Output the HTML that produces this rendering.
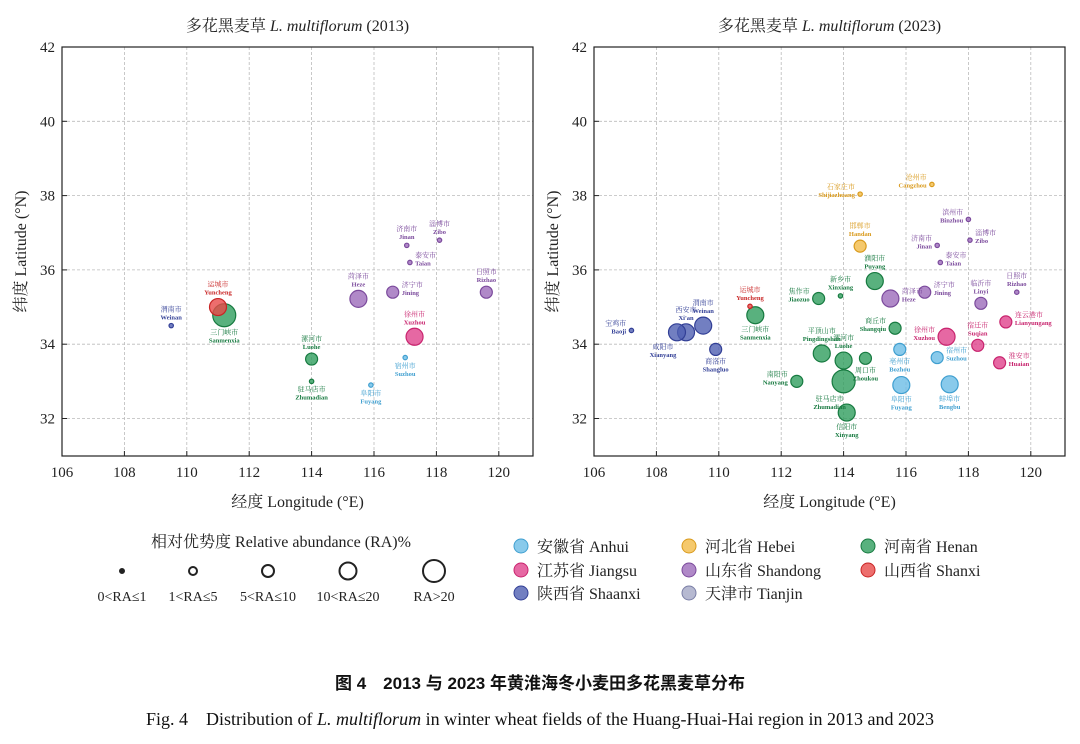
<!DOCTYPE html>
<html><head><meta charset="utf-8"><style>
body{margin:0;background:#fff;}
svg{display:block;}
text{font-family:"Liberation Serif","Noto Serif CJK SC",serif;}
</style></head><body>
<svg id="c" width="1080" height="744" viewBox="0 0 1080 744" xmlns="http://www.w3.org/2000/svg"></svg>
<script>
const colors={A:"#6cbde6",J:"#e0428c",S:"#4f5fb2",H:"#f2bc48",D:"#9c6cba",T:"#a4a8c6",N:"#2f9d5e",X:"#e94a48"};
const strokes={A:"#3f9fd0",J:"#c8246e",S:"#323f96",H:"#d99a1c",D:"#7b4a9c",T:"#7a7ea6",N:"#177a40",X:"#c82424"};
const radii=[0,2.2,4,6,8.5,11.5];
const xTicks=[106,108,110,112,114,116,118,120];
const yTicks=[32,34,36,38,40,42];
// 2013 data
const names13=["渭南市|Weinan","运城市|Yuncheng","三门峡市|Sanmenxia","菏泽市|Heze","济南市|Jinan","淄博市|Zibo","泰安市|Taian","济宁市|Jining","日照市|Rizhao","徐州市|Xuzhou","宿州市|Suzhou","阜阳市|Fuyang","漯河市|Luohe","驻马店市|Zhumadian"];
const prov13=["S","X","N","D","D","D","D","D","D","J","A","A","N","N"];
const lon13=[109.5,111.0,111.2,115.5,117.05,118.1,117.15,116.6,119.6,117.3,117.0,115.9,114.0,114.0];
const lat13=[34.5,35.0,34.78,35.22,36.66,36.8,36.2,35.4,35.4,34.2,33.64,32.9,33.6,33.0];
const ra13=[1,4,5,4,1,1,1,3,3,4,1,1,3,1];
const lp13=["t","t","b","t","t","t","r","r","t","t","b","b","t","b"];
// 2023 data
const names23=["石家庄市|Shijiazhuang","沧州市|Cangzhou","滨州市|Binzhou","淄博市|Zibo","济南市|Jinan","泰安市|Taian","邯郸市|Handan","濮阳市|Puyang","新乡市|Xinxiang","焦作市|Jiaozuo","菏泽市|Heze","济宁市|Jining","临沂市|Linyi","日照市|Rizhao","连云港市|Lianyungang","徐州市|Xuzhou","宿迁市|Suqian","淮安市|Huaian","亳州市|Bozhou","宿州市|Suzhou","阜阳市|Fuyang","蚌埠市|Bengbu","商丘市|Shangqiu","周口市|Zhoukou","漯河市|Luohe","驻马店市|Zhumadian","信阳市|Xinyang","平顶山市|Pingdingshan","南阳市|Nanyang","三门峡市|Sanmenxia","运城市|Yuncheng","渭南市|Weinan","西安市|Xi'an","咸阳市|Xianyang","宝鸡市|Baoji","商洛市|Shangluo"];
const prov23=["H","H","D","D","D","D","H","N","N","N","D","D","D","D","J","J","J","J","A","A","A","A","N","N","N","N","N","N","N","N","X","S","S","S","S","S"];
const lon23=[114.53,116.83,118.0,118.05,117.0,117.1,114.53,115.0,113.9,113.2,115.5,116.6,118.4,119.55,119.2,117.3,118.3,119.0,115.8,117.0,115.85,117.4,115.65,114.7,114.0,114.0,114.1,113.3,112.5,111.17,111.0,109.5,108.95,108.66,107.2,109.9];
const lat23=[38.04,38.3,37.36,36.8,36.66,36.2,36.64,35.7,35.3,35.23,35.23,35.4,35.1,35.4,34.6,34.2,33.97,33.5,33.86,33.64,32.9,32.92,34.43,33.62,33.56,33.0,32.16,33.75,33.0,34.78,35.02,34.5,34.32,34.32,34.37,33.86];
const ra23=[1,1,1,1,1,1,3,4,1,3,4,3,3,1,3,4,3,3,3,3,4,4,3,3,4,5,4,4,3,4,1,4,4,4,1,3];
const lp23=["l","l","l","r","l","r","t","t","t","l","r","r","t","t","r","l","t","r","b","r","b","b","l","b","t","bl","b","t","l","b","t","t","t","bl","l","b"];

const svg=document.getElementById('c');
const NS="http://www.w3.org/2000/svg";
function mk(tag,attrs,parent){const e=document.createElementNS(NS,tag);for(const k in attrs)e.setAttribute(k,attrs[k]);(parent||svg).appendChild(e);return e;}
function txt(s,attrs,parent){const e=mk('text',attrs,parent);e.textContent=s;return e;}

function panel(x0,title,names,prov,lon,lat,ra,lp,key){
  const g=mk('g',{});
  
  
  const L=x0,R=x0+471,T=47,B=456;
  const xs=v=>L+(v-106)*31.2;
  const ys=v=>T+(42-v)*37.15;
  // grid
  xTicks.forEach(t=>{const l=mk('line',{x1:xs(t),x2:xs(t),y1:T,y2:B,stroke:'#bbb','stroke-dasharray':'3,2','stroke-width':0.8},g);
    });
  yTicks.forEach(t=>{const l=mk('line',{x1:L,x2:R,y1:ys(t),y2:ys(t),stroke:'#bbb','stroke-dasharray':'3,2','stroke-width':0.8},g);
    });
  const box=mk('rect',{x:L,y:T,width:R-L,height:B-T,fill:'none',stroke:'#222','stroke-width':1.2},g);
  
  xTicks.forEach(t=>{mk('line',{x1:xs(t),x2:xs(t),y1:B,y2:B-5,stroke:'#222'},g);
    const e=txt(t,{x:xs(t),y:B+21,'font-size':15,'text-anchor':'middle',fill:'#222'},g);
    });
  yTicks.forEach(t=>{mk('line',{x1:L,x2:L+5,y1:ys(t),y2:ys(t),stroke:'#222'},g);
    const e=txt(t,{x:L-7,y:ys(t)+5,'font-size':15,'text-anchor':'end',fill:'#222'},g);
    });
  const tt=txt('',{x:(L+R)/2,y:31,'font-size':16,'text-anchor':'middle',fill:'#222'},g);
  tt.innerHTML='多花黑麦草 <tspan font-style="italic">L. multiflorum</tspan> ('+title+')';
  
  const xl=txt('经度 Longitude (°E)',{x:(L+R)/2,y:507,'font-size':16,'text-anchor':'middle',fill:'#222'},g);
  
  const yl=txt('纬度 Latitude (°N)',{x:0,y:0,'font-size':16,'text-anchor':'middle',fill:'#222',transform:`translate(${L-36},${(T+B)/2}) rotate(-90)`},g);
  
  // points
  const order=names.map((_,i)=>i).sort((a,b)=>ra[b]-ra[a]);
  order.forEach(i=>{
    const cx=xs(lon[i]),cy=ys(lat[i]),r=radii[ra[i]];
    const c=mk('circle',{cx,cy,r,fill:colors[prov[i]],'fill-opacity':0.8,stroke:strokes[prov[i]],'stroke-width':1.2},g);
    
    
  });
  names.forEach((n,i)=>{
    const [cn,en]=n.split('|');const cx=xs(lon[i]),cy=ys(lat[i]),r=radii[ra[i]];
    let p=lp[i],tx=cx,ty=cy,anc='middle';
    if(p==='t'){ty=cy-r-12;}
    else if(p==='b'){ty=cy+r+8;}
    else if(p==='bl'){ty=cy+r+8;tx=cx-14;}
    else if(p==='l'){tx=cx-r-3;ty=cy-5;anc='end';}
    else if(p==='r'){tx=cx+r+3;ty=cy-5;anc='start';}
    const col=strokes[prov[i]];
    const a=txt(cn,{x:tx,y:ty,'font-size':7,'text-anchor':anc,fill:col},g);
    
    const b=txt(en,{x:tx,y:ty+8,'font-size':6.5,'font-weight':'bold','text-anchor':anc,fill:col},g);
    
  });
}
panel(62,'2013',names13,prov13,lon13,lat13,ra13,lp13,'2013');
panel(594,'2023',names23,prov23,lon23,lat23,ra23,lp23,'2023');

// size legend
const lg=mk('g',{});

const lt=txt('相对优势度 Relative abundance (RA)%',{x:281,y:547,'font-size':16,'text-anchor':'middle',fill:'#222'},lg);

const sizeLabels=['0<RA≤1','1<RA≤5','5<RA≤10','10<RA≤20','RA>20'];
const sizeX=[122,193,268,348,434];
sizeLabels.forEach((s,i)=>{
  const c=mk('circle',{cx:sizeX[i],cy:571,r:[2,4,6,8.5,11][i],fill:i===0?'#222':'none',stroke:'#222','stroke-width':2},lg);
  
  const t=txt(s,{x:sizeX[i],y:601,'font-size':14,'text-anchor':'middle',fill:'#222'},lg);
  
});
// province legend
const pg=mk('g',{});

const provItems=[['A','安徽省 Anhui',521,546],['H','河北省 Hebei',689,546],['N','河南省 Henan',868,546],['J','江苏省 Jiangsu',521,570],['D','山东省 Shandong',689,570],['X','山西省 Shanxi',868,570],['S','陕西省 Shaanxi',521,593],['T','天津市 Tianjin',689,593]];
provItems.forEach(p=>{
  const c=mk('circle',{cx:p[2],cy:p[3],r:7,fill:colors[p[0]],'fill-opacity':0.8,stroke:strokes[p[0]],'stroke-width':1},pg);
  
  const t=txt(p[1],{x:p[2]+16,y:p[3]+6,'font-size':16,fill:'#222'},pg);
  
});
const cap1=txt('图 4　2013 与 2023 年黄淮海冬小麦田多花黑麦草分布',{x:540,y:689,'font-size':17,'font-weight':'bold','text-anchor':'middle',fill:'#111',style:'font-family:"Liberation Sans","Noto Sans CJK SC",sans-serif'});

const cap2=txt('',{x:540,y:725,'font-size':18,'text-anchor':'middle',fill:'#111'});
cap2.innerHTML='Fig. 4　Distribution of <tspan font-style="italic">L. multiflorum</tspan> in winter wheat fields of the Huang-Huai-Hai region in 2013 and 2023';

</script>
</body></html>
